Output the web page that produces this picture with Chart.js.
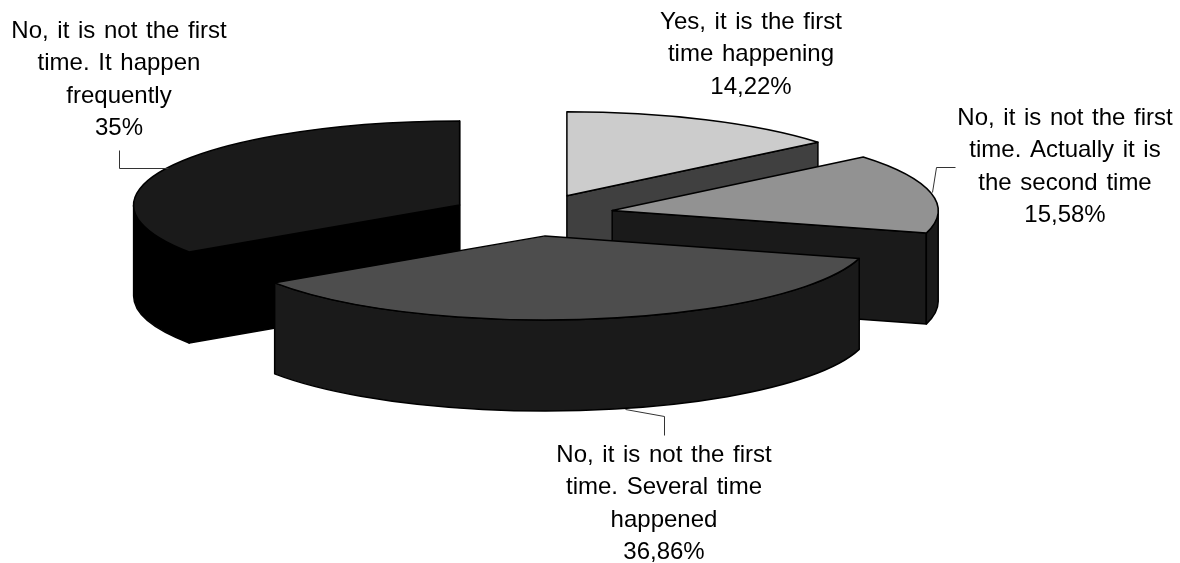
<!DOCTYPE html>
<html>
<head>
<meta charset="utf-8">
<title>Is it the first time?</title>
<style>
    html, body { margin: 0; padding: 0; background: #fff; }
    canvas { display: block; }
</style>
<script src="https://cdn.jsdelivr.net/npm/chart.js@4"></script>
</head>
<body>
<canvas id="pieChart" width="1180" height="563"></canvas>
<script>
const categories = [
    'Yes, it is the first time happening',
    'No, it is not the first time. Actually it is the second time',
    'No, it is not the first time. Several time happened',
    'No, it is not the first time. It happen frequently'
];
const shares = [14.22, 15.58, 36.86, 35];
const shareLabels = ['14,22%', '15,58%', '36,86%', '35%'];

const topColors = ['#cccccc', '#929292', '#4d4d4d', '#1a1a1a'];
const wallColors = ['#404040', '#1a1a1a', '#1a1a1a', '#000000'];

// wrapped label text, one entry per line
const labelLines = [
    ['Yes, it is the first', 'time happening'],
    ['No, it is not the first', 'time. Actually it is', 'the second time'],
    ['No, it is not the first', 'time. Several time', 'happened'],
    ['No, it is not the first', 'time. It happen', 'frequently']
];
const labelCenters = [[751, 22], [1065, 118], [664, 455], [119, 31]];
const leaderLines = [
    null,
    [[932, 192], [936, 167], [955, 167]],
    [[625, 409], [664, 416], [664, 435]],
    [[119, 150], [119, 168], [168, 168]]
];

const PIE_RADIUS = 326;
const TILT = 0.258;      // vertical squash of the pie
const EXPLODE = 82;      // how far slices are pulled from the centre
const DEPTH = 91;        // height of the extruded walls
const LINE_HEIGHT = 32.6;

function sliceShift(arc) {
    const mid = (arc.startAngle + arc.endAngle) / 2;
    return {
        x: arc.x + Math.cos(mid) * EXPLODE,
        y: arc.y + Math.sin(mid) * EXPLODE * TILT
    };
}

function rimPoint(c, angle) {
    return {
        x: c.x + Math.cos(angle) * PIE_RADIUS,
        y: c.y + Math.sin(angle) * PIE_RADIUS * TILT
    };
}

function paint(ctx, fill) {
    ctx.fillStyle = fill;
    ctx.fill();
    ctx.stroke();
}

function drawCutFace(ctx, c, angle, fill) {
    const p = rimPoint(c, angle);
    ctx.beginPath();
    ctx.moveTo(c.x, c.y);
    ctx.lineTo(p.x, p.y);
    ctx.lineTo(p.x, p.y + DEPTH);
    ctx.lineTo(c.x, c.y + DEPTH);
    ctx.closePath();
    paint(ctx, fill);
}

function drawWalls(ctx, arc, c, fill) {
    // start edge faces the viewer on the left half, end edge on the right half
    if (Math.cos(arc.startAngle) < 0) drawCutFace(ctx, c, arc.startAngle, fill);
    if (Math.cos(arc.endAngle) > -0.001) drawCutFace(ctx, c, arc.endAngle, fill);

    // only the front half of the rim is visible
    const from = Math.max(arc.startAngle, 0);
    const to = Math.min(arc.endAngle, Math.PI);
    if (to <= from) return;
    ctx.beginPath();
    ctx.ellipse(c.x, c.y, PIE_RADIUS, PIE_RADIUS * TILT, 0, from, to);
    ctx.ellipse(c.x, c.y + DEPTH, PIE_RADIUS, PIE_RADIUS * TILT, 0, to, from, true);
    ctx.closePath();
    paint(ctx, fill);
}

function drawTop(ctx, arc, c) {
    ctx.save();
    ctx.translate(c.x, c.y);
    ctx.scale(1, TILT);
    ctx.translate(-arc.x, -arc.y);
    arc.draw(ctx);
    ctx.restore();

    // outline is stroked unscaled so the line keeps an even width
    ctx.beginPath();
    ctx.moveTo(c.x, c.y);
    ctx.ellipse(c.x, c.y, PIE_RADIUS, PIE_RADIUS * TILT, 0, arc.startAngle, arc.endAngle);
    ctx.closePath();
    ctx.stroke();
}

const pie3d = {
    id: 'pie3d',
    beforeDatasetsDraw(chart) {
        const ctx = chart.ctx;
        const arcs = chart.getDatasetMeta(0).data;

        // back slices first so the nearer ones cover them
        const order = arcs.map((arc, i) => i).sort((a, b) => sliceShift(arcs[a]).y - sliceShift(arcs[b]).y);

        ctx.save();
        ctx.strokeStyle = '#000';
        ctx.lineWidth = 1.5;
        ctx.lineJoin = 'round';
        order.forEach(i => {
            const arc = arcs[i];
            const c = sliceShift(arc);
            drawWalls(ctx, arc, c, wallColors[i]);
            drawTop(ctx, arc, c);
        });
        ctx.restore();
        return false;
    },
    afterDraw(chart) {
        const ctx = chart.ctx;
        ctx.save();

        ctx.strokeStyle = '#333';
        ctx.lineWidth = 1;
        leaderLines.forEach(line => {
            if (!line) return;
            ctx.beginPath();
            line.forEach((p, i) => i ? ctx.lineTo(p[0] + 0.5, p[1] + 0.5) : ctx.moveTo(p[0] + 0.5, p[1] + 0.5));
            ctx.stroke();
        });

        ctx.fillStyle = '#000';
        ctx.font = '24px "Liberation Sans"';
        ctx.wordSpacing = '2px';
        ctx.textAlign = 'center';
        ctx.textBaseline = 'middle';
        categories.forEach((name, i) => {
            const lines = labelLines[i].concat(shareLabels[i]);
            const [x, y] = labelCenters[i];
            lines.forEach((text, n) => ctx.fillText(text, x, y + n * LINE_HEIGHT));
        });
        ctx.restore();
    }
};

new Chart(document.getElementById('pieChart'), {
    type: 'pie',
    data: {
        labels: categories,
        datasets: [{
            data: shares,
            backgroundColor: topColors,
            borderWidth: 0
        }]
    },
    options: {
        responsive: false,
        animation: false,
        radius: PIE_RADIUS,
        layout: { padding: { right: 116, bottom: 133 } },
        plugins: {
            legend: { display: false },
            tooltip: { enabled: false }
        }
    },
    plugins: [pie3d]
});
</script>
</body>
</html>
